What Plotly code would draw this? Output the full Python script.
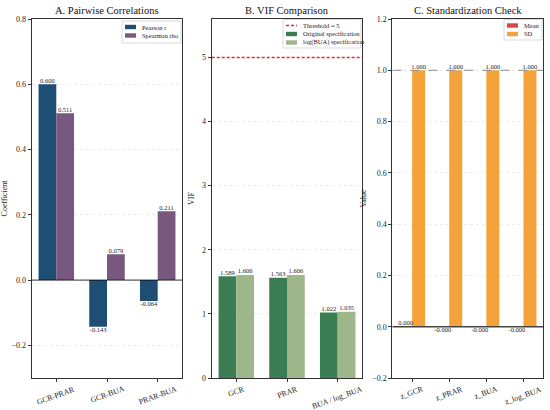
import plotly.graph_objects as go

# panel A: pairwise correlations
pairs = ['GCR-PRAR', 'GCR-BUA', 'PRAR-BUA']
pearson_r = [0.600, -0.143, -0.064]
spearman_rho = [0.511, 0.079, 0.211]

# panel B: VIF
vif_vars = ['GCR', 'PRAR', 'BUA / log_BUA']
vif_orig = [1.589, 1.563, 1.022]
vif_log = [1.606, 1.606, 1.035]
vif_threshold = 5

# panel C: standardization check
z_vars = ['z_GCR', 'z_PRAR', 'z_BUA', 'z_log_BUA']
z_mean = [2e-17, -3e-17, -1e-17, -2e-17]
z_sd = [1.000, 1.000, 1.000, 1.000]

FONT = 'Liberation Serif'
W = 0.35
WID, HGT = 550, 410
doms = [[31.7 / WID, 182.3 / WID], [211.7 / WID, 362.3 / WID], [392.3 / WID, 543.3 / WID]]
ydom = [1 - 378 / HGT, 1 - 19 / HGT]
RED = '#f0282f'

fig = go.Figure()


def add_bars(vals, offset, color, name, xa, ya):
    xs = [i + offset for i in range(len(vals))]
    fig.add_trace(go.Bar(x=xs, y=vals, width=W, marker=dict(color=color, line=dict(width=0)),
                         name=name, xaxis=xa, yaxis=ya, showlegend=False))
    # value labels above / below bar ends
    fig.add_trace(go.Scatter(
        x=xs, y=vals, mode='text', text=['{:.3f}'.format(v) for v in vals],
        textposition=['top center' if v >= 0 else 'bottom center' for v in vals],
        textfont=dict(size=6.5, family=FONT, color='#222'),
        showlegend=False, hoverinfo='skip', xaxis=xa, yaxis=ya))


def rotated_ticks(labels, xa):
    # matplotlib-style centred labels, rotated 20 degrees
    for i, lab in enumerate(labels):
        fig.add_annotation(text=lab, x=i, xref=xa, y=ydom[0], yref='paper', yshift=-4,
                           xanchor='center', yanchor='top', textangle=-20, showarrow=False,
                           font=dict(size=7.8, family=FONT, color='#222'))


# A
add_bars(pearson_r, -W / 2, '#1f4e74', 'Pearson r', 'x', 'y')
add_bars(spearman_rho, W / 2, '#78587f', 'Spearman rho', 'x', 'y')

# B
xr3 = [-0.485, 2.485]
fig.add_trace(go.Scatter(x=xr3, y=[vif_threshold] * 2, mode='lines', name='Threshold = 5',
                         line=dict(color=RED, dash='3px,2px', width=1.5),
                         xaxis='x2', yaxis='y2', showlegend=False, hoverinfo='skip'))
add_bars(vif_orig, -W / 2, '#3b7d52', 'Original specification', 'x2', 'y2')
add_bars(vif_log, W / 2, '#9db68a', 'log(BUA) specification', 'x2', 'y2')

# C
add_bars(z_mean, -W / 2, '#d9453f', 'Mean', 'x3', 'y3')
add_bars(z_sd, W / 2, '#f4a23a', 'SD', 'x3', 'y3')

xr4 = [-0.535, 3.535]
fig.add_shape(type='line', xref='x', yref='y', x0=xr3[0], x1=xr3[1], y0=0, y1=0,
              line=dict(color='black', width=0.8))
fig.add_shape(type='line', xref='x3', yref='y3', x0=xr4[0], x1=xr4[1], y0=0, y1=0,
              line=dict(color='#444', width=1.5))
fig.add_shape(type='line', xref='x3', yref='y3', x0=xr4[0], x1=xr4[1], y0=1, y1=1,
              line=dict(color='#888', width=1, dash='dash'))

rotated_ticks(pairs, 'x')
rotated_ticks(vif_vars, 'x2')
rotated_ticks(z_vars, 'x3')

axis_common = dict(showline=True, mirror=True, linecolor='#333', linewidth=1,
                   ticks='outside', ticklen=3, tickcolor='#333', automargin=False,
                   tickfont=dict(size=8, family=FONT, color='#222'), zeroline=False)
ygrid = dict(showgrid=True, gridcolor='#ebebeb', griddash='dot', gridwidth=0.8)

fig.update_layout(
    width=WID, height=HGT, margin=dict(l=0, r=0, t=0, b=0),
    paper_bgcolor='white', plot_bgcolor='white', barmode='overlay', showlegend=False,
    font=dict(family=FONT, color='#222'),
    xaxis=dict(domain=doms[0], range=xr3, tickvals=list(range(len(pairs))), showticklabels=False,
               showgrid=False, anchor='y', **axis_common),
    yaxis=dict(domain=ydom, range=[-0.3, 0.8], tickvals=[-0.2, 0, 0.2, 0.4, 0.6, 0.8],
               tickformat='.1f', **ygrid,
               title=dict(text='Coefficient', font=dict(size=8, family=FONT), standoff=4),
               anchor='x', **axis_common),
    xaxis2=dict(domain=doms[1], range=xr3, tickvals=list(range(len(vif_vars))), showticklabels=False,
                showgrid=False, anchor='y2', **axis_common),
    yaxis2=dict(domain=ydom, range=[0, 5.6], tickvals=[0, 1, 2, 3, 4, 5], **ygrid,
                title=dict(text='VIF', font=dict(size=8, family=FONT), standoff=6),
                anchor='x2', **axis_common),
    xaxis3=dict(domain=doms[2], range=xr4, tickvals=list(range(len(z_vars))), showticklabels=False,
                showgrid=False, anchor='y3', **axis_common),
    yaxis3=dict(domain=ydom, range=[-0.2, 1.2], tickvals=[-0.2, 0, 0.2, 0.4, 0.6, 0.8, 1.0, 1.2],
                tickformat='.1f', **ygrid,
                title=dict(text='Value', font=dict(size=8, family=FONT), standoff=4),
                anchor='x3', **axis_common),
)


# hand-drawn legends (pixel positions converted to paper coords)
def px(x):
    return x / WID


def py(y):
    return 1 - y / HGT


def legend_box(x0, y0, x1, y1, items):
    fig.add_shape(type='rect', xref='paper', yref='paper', x0=px(x0), x1=px(x1),
                  y0=py(y0), y1=py(y1), line=dict(color='#cfcfcf', width=0.8),
                  fillcolor='rgba(255,255,255,0.9)')
    for k, (label, color, kind) in enumerate(items):
        yc = y0 + 6 + k * 8.5
        if kind == 'line':
            fig.add_shape(type='line', xref='paper', yref='paper', x0=px(x0 + 3), x1=px(x0 + 14),
                          y0=py(yc), y1=py(yc), line=dict(color=color, width=1.5, dash='3px,2px'))
        else:
            fig.add_shape(type='rect', xref='paper', yref='paper', x0=px(x0 + 3), x1=px(x0 + 14),
                          y0=py(yc - 2.2), y1=py(yc + 2.2), line=dict(width=0), fillcolor=color)
        fig.add_annotation(text=label, x=px(x0 + 18), y=py(yc), xref='paper', yref='paper',
                           xanchor='left', yanchor='middle', showarrow=False,
                           font=dict(size=6.5, family=FONT, color='#222'))


legend_box(122, 21, 181, 43, [('Pearson r', '#1f4e74', 'bar'), ('Spearman rho', '#78587f', 'bar')])
legend_box(283, 19.5, 361, 48, [('Threshold = 5', RED, 'line'),
                                ('Original specification', '#3b7d52', 'bar'),
                                ('log(BUA) specification', '#9db68a', 'bar')])
legend_box(504, 19.5, 542, 40, [('Mean', '#d9453f', 'bar'), ('SD', '#f4a23a', 'bar')])

titles = ['A. Pairwise Correlations', 'B. VIF Comparison', 'C. Standardization Check']
for d, t in zip(doms, titles):
    fig.add_annotation(text=t, x=(d[0] + d[1]) / 2, y=py(10.5), xref='paper', yref='paper',
                       showarrow=False, font=dict(size=10.5, family=FONT, color='#111'),
                       xanchor='center', yanchor='middle')

# drop the browser's default 8px body margin so the figure sits at the page corner
fig.write_html('out.html', config={'displayModeBar': False},
               post_script="document.body.style.margin='0';")
